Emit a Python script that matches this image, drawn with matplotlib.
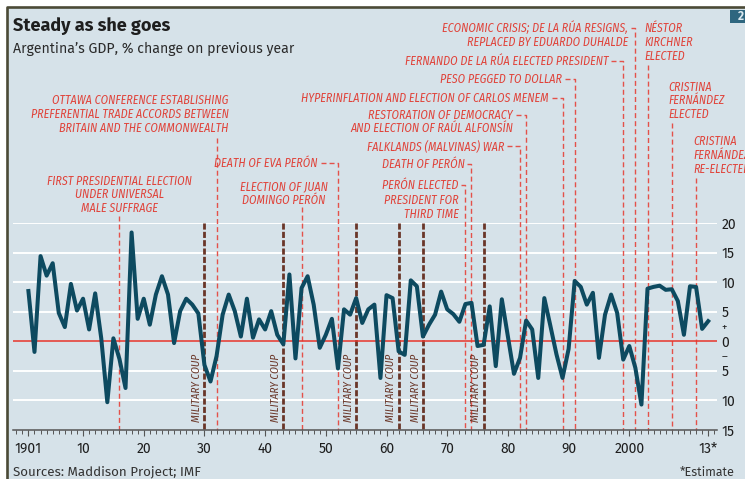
import matplotlib
matplotlib.use("Agg")
import matplotlib.pyplot as plt
import numpy as np
from matplotlib import font_manager
from matplotlib.lines import Line2D
from matplotlib.patches import Rectangle
from matplotlib.ticker import MultipleLocator
from matplotlib.transforms import Affine2D

W, H = 745, 479

# Annual GDP growth, % (2013 is an estimate)
GDP_GROWTH = [
    8.5, -1.8, 14.4, 11.1, 13.2, 4.8, 2.4, 9.7, 5.2, 7.2,      # 1901-1910
    2.0, 8.1, 0.5, -10.3, 0.5, -3.0, -7.9, 18.4, 3.8, 7.2,     # 1911-1920
    2.8, 7.9, 11.0, 7.9, -0.3, 5.1, 7.2, 6.2, 4.7, -4.0,       # 1921-1930
    -6.8, -2.5, 4.5, 7.9, 5.1, 0.8, 7.2, 0.6, 3.7, 2.0,        # 1931-1940
    5.1, 1.1, -0.5, 11.3, -2.9, 9.0, 11.0, 6.2, -1.1, 1.1,     # 1941-1950
    3.8, -4.6, 5.4, 4.5, 7.3, 3.1, 5.4, 6.2, -6.2, 7.8,        # 1951-1960
    7.3, -1.7, -2.3, 10.3, 9.3, 0.8, 2.8, 4.5, 8.4, 5.4,       # 1961-1970
    4.6, 3.3, 6.3, 6.5, -0.8, -0.6, 5.9, -4.2, 7.1, 0.8,       # 1971-1980
    -5.5, -2.8, 3.5, 2.0, -6.2, 7.3, 2.6, -2.2, -6.2, -1.3,    # 1981-1990
    10.2, 9.2, 6.2, 8.2, -2.8, 4.5, 7.9, 4.8, -3.1, -0.8,      # 1991-2000
    -4.5, -10.7, 8.9, 9.2, 9.4, 8.7, 8.8, 6.8, 1.1, 9.3,       # 2001-2010
    9.2, 2.1, 3.4,                                             # 2011-2013
]
YEARS = np.arange(1901, 1901 + len(GDP_GROWTH))

EVENT_YEARS = [1916, 1932, 1946, 1952, 1973, 1974, 1982, 1983,
               1989, 1991, 1999, 2001, 2003, 2007, 2011]
EVENT_LABELS = [
    "FIRST PRESIDENTIAL ELECTION\nUNDER UNIVERSAL\nMALE SUFFRAGE",
    "OTTAWA CONFERENCE ESTABLISHING\nPREFERENTIAL TRADE ACCORDS BETWEEN\n"
    "BRITAIN AND THE COMMONWEALTH",
    "ELECTION OF JUAN\nDOMINGO PERÓN",
    "DEATH OF EVA PERÓN",
    "PERÓN ELECTED\nPRESIDENT FOR\nTHIRD TIME",
    "DEATH OF PERÓN",
    "FALKLANDS (MALVINAS) WAR",
    "RESTORATION OF DEMOCRACY\nAND ELECTION OF RAÚL ALFONSÍN",
    "HYPERINFLATION AND ELECTION OF CARLOS MENEM",
    "PESO PEGGED TO DOLLAR",
    "FERNANDO DE LA RÚA ELECTED PRESIDENT",
    "ECONOMIC CRISIS; DE LA RÚA RESIGNS,\nREPLACED BY EDUARDO DUHALDE",
    "NÉSTOR\nKIRCHNER\nELECTED",
    "CRISTINA\nFERNÁNDEZ\nELECTED",
    "CRISTINA\nFERNÁNDEZ\nRE-ELECTED",
]
COUP_YEARS = [1930, 1943, 1955, 1962, 1966, 1976]

X_TICKS = [1901, 1910, 1920, 1930, 1940, 1950, 1960, 1970, 1980, 1990, 2000, 2013]
X_TICK_LABELS = ["1901", "10", "20", "30", "40", "50", "60", "70", "80", "90",
                 "2000", "13*"]
Y_TICKS = [-15, -10, -5, -2.5, 0, 2.5, 5, 10, 15, 20]
Y_TICK_LABELS = ["15", "10", "5", "–", "0", "+", "5", "10", "15", "20"]

# label placement in pixels: (align, x offset from the rule, first-line centre,
# line pitch, top of rule or None when the rule hooks onto the first line)
EVENT_LAYOUT = [
    ("center", 0, 181, 13.5, 216),
    ("right", 12, 100, 14, 138),
    ("center", -18, 186, 14, 207),
    ("right", -20, 163, 14, None),
    ("right", -7, 185, 14.5, None),
    ("right", -7, 164, 14, None),
    ("right", -16, 146, 14, None),
    ("right", -13, 115, 13, None),
    ("right", -14, 98, 14, None),
    ("right", -13, 79, 14, None),
    ("right", -15, 61, 14, None),
    ("right", -7, 28, 14, None),
    ("left", -3, 28, 14, 65),
    ("left", -3, 87, 13.5, 123),
    ("left", -3, 141, 14, 178),
]

PANEL = "#d6e2e9"
FRAME = "#4b4a36"
LINE = "#0d4a60"
RED_TEXT = "#e0433a"
RED_RULE = "#e4514a"
COUP = "#6a3628"
ZERO = "#e8352b"
AXIS = "#555555"
INK = "#1e1e1e"


def pick(*families):
    installed = {f.name for f in font_manager.fontManager.ttflist}
    for fam in families:
        if fam in installed:
            return fam
    return "DejaVu Sans"


SANS = pick("Fira Sans", "Liberation Sans")
NARROW = pick("Fira Sans Condensed", "Roboto Condensed", "Liberation Sans")
plt.rcParams["font.family"] = [SANS, "DejaVu Sans"]

fig = plt.figure(figsize=(W / 100, H / 100), dpi=100)
# pixel space with the origin at the top-left corner
PX = Affine2D().scale(1 / W, -1 / H).translate(0, 1) + fig.transFigure

fig.patches.append(Rectangle((7, 7), W - 7, H - 7, transform=PX, facecolor=PANEL,
                             edgecolor="none", zorder=-10))
fig.add_artist(Line2D([7, 7, W], [H, 7, 7], transform=PX, color=FRAME, lw=1.9,
                      solid_capstyle="butt", zorder=-9))
fig.patches.append(Rectangle((730, 10), 16, 12.5, transform=PX, facecolor="#2e667f",
                             edgecolor="none", zorder=-8))
fig.text(737.5, 16.5, "2", transform=PX, color="#dbe8ef", fontsize=8.5,
         fontweight="bold", va="center", ha="left")

ax = fig.add_axes([13 / W, 1 - 430 / H, (717 - 13) / W, (430 - 223) / H])
ax.set_facecolor("none")
ax.set_xlim(1898.46, 2014.45)
ax.set_ylim(-15, 20)

for v in [-10, -5, 5, 10, 15, 20]:
    ax.axhline(v, color="white", lw=1.4, zorder=0.5)
ax.axhline(0, color=ZERO, lw=1.1, zorder=2)
ax.plot(YEARS, GDP_GROWTH, color=LINE, lw=2.9, zorder=3, solid_joinstyle="round")

for side in ["top", "left", "right"]:
    ax.spines[side].set_visible(False)
ax.spines["bottom"].set_color(AXIS)
ax.spines["bottom"].set_linewidth(1.1)

ax.set_xticks(X_TICKS, X_TICK_LABELS)
ax.xaxis.set_minor_locator(MultipleLocator(1))
ax.tick_params(axis="x", which="major", length=4, width=0.8, color=AXIS, pad=4.5,
               labelsize=10, labelcolor=INK)
ax.tick_params(axis="x", which="minor", length=3, width=0.7, color=AXIS)
ax.yaxis.tick_right()
ax.set_yticks(Y_TICKS, Y_TICK_LABELS)
ax.tick_params(axis="y", length=0, pad=3, labelsize=10, labelcolor=INK)
for lab, val in zip(ax.get_yticklabels(), Y_TICKS):
    if val in (-2.5, 2.5):
        lab.set_fontsize(8)

fig.canvas.draw()


def year_px(year):
    return ax.transData.transform((year, 0))[0] * W / fig.bbox.width


BOTTOM = 430

for year, text, (ha, dx, y0, pitch, top) in zip(EVENT_YEARS, EVENT_LABELS, EVENT_LAYOUT):
    xl = year_px(year)
    for i, line in enumerate(text.split("\n")):
        fig.text(xl + dx, y0 + i * pitch + 4, line, transform=PX, ha=ha, va="baseline",
                 family=[NARROW, "DejaVu Sans"], style="italic", fontsize=8.6,
                 color=RED_TEXT)
    if top is None:
        xs, ys = [xl + dx + 3, xl, xl], [y0, y0, BOTTOM]
    else:
        xs, ys = [xl, xl], [top, BOTTOM]
    ax.add_line(Line2D(xs, ys, transform=PX, color=RED_RULE, lw=1.0,
                       linestyle=(0, (3.6, 2.2)), clip_on=False, zorder=1))

for year in COUP_YEARS:
    xl = year_px(year)
    ax.add_line(Line2D([xl, xl], [223, BOTTOM], transform=PX, color=COUP, lw=2.0,
                       linestyle=(0, (2.2, 0.8)), clip_on=False, zorder=1.5))
    ax.text(xl - 7.5, 388, "MILITARY COUP", transform=PX, rotation=90, ha="center",
            va="center", family=[NARROW, "DejaVu Sans"], style="italic", fontsize=8,
            color=COUP, zorder=1.5)

fig.text(13, 31, "Steady as she goes", transform=PX, fontsize=13, fontweight="bold",
         color=INK, va="baseline")
fig.text(13, 53, "Argentina’s GDP, % change on previous year", transform=PX,
         fontsize=10.2, color="#2a2a2a", va="baseline")
fig.text(13, 475, "Sources: Maddison Project; IMF", transform=PX, fontsize=9.6,
         color="#333333", va="baseline")
fig.text(735, 476, "*Estimate", transform=PX, fontsize=9, color="#333333",
         va="baseline", ha="right")

fig.savefig("out.png", dpi=100, facecolor="white")
